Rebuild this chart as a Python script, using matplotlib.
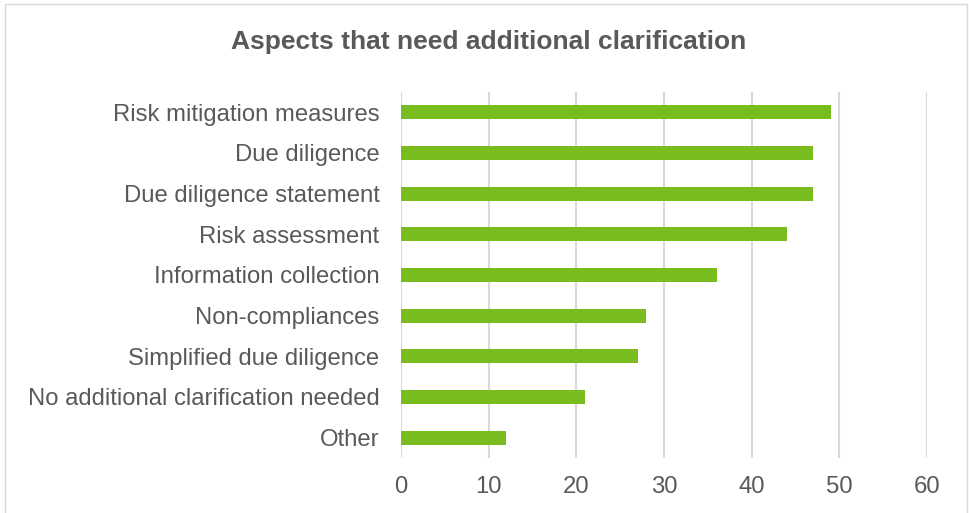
import numpy as np
import matplotlib.pyplot as plt
from matplotlib.patches import Rectangle

categories = ["Risk mitigation measures", "Due diligence", "Due diligence statement",
              "Risk assessment", "Information collection", "Non-compliances",
              "Simplified due diligence", "No additional clarification needed", "Other"]
counts = [49, 47, 47, 44, 36, 28, 27, 21, 12]
xticks = [0, 10, 20, 30, 40, 50, 60]

plt.rcParams['font.family'] = ['Liberation Sans', 'DejaVu Sans']
grey = '#595959'

fig = plt.figure(figsize=(9.69, 5.13), dpi=100)
ax = fig.add_axes([401/969, 1-458/513, (927-401)/969, (458-92)/513])

y = np.arange(len(categories))
ax.barh(y, counts, height=0.35, color='#78bc20', zorder=3)
ax.set_ylim(len(categories)-0.5, -0.5)
ax.set_xlim(0, 60)
ax.set_xticks(xticks)
ax.set_yticks(y)
ax.set_yticklabels(categories)
ax.tick_params(axis='both', length=0, colors=grey, labelsize=17.2)
ax.tick_params(axis='y', pad=15.5)
ax.tick_params(axis='x', pad=13)
ax.grid(axis='x', color='#d9d9d9', linewidth=1.5, zorder=0)
for s in ax.spines.values():
    s.set_visible(False)

fig.text(489/969, 1-42/513, "Aspects that need additional clarification",
         ha='center', va='center', fontsize=19, fontweight='bold', color=grey)

# outer chart frame
fig.patches.append(Rectangle((5/969, -0.01), 962/969, 1-4/513+0.01,
                             transform=fig.transFigure, fill=False,
                             edgecolor='#d9d9d9', linewidth=1))

fig.savefig('out.png', dpi=100)
